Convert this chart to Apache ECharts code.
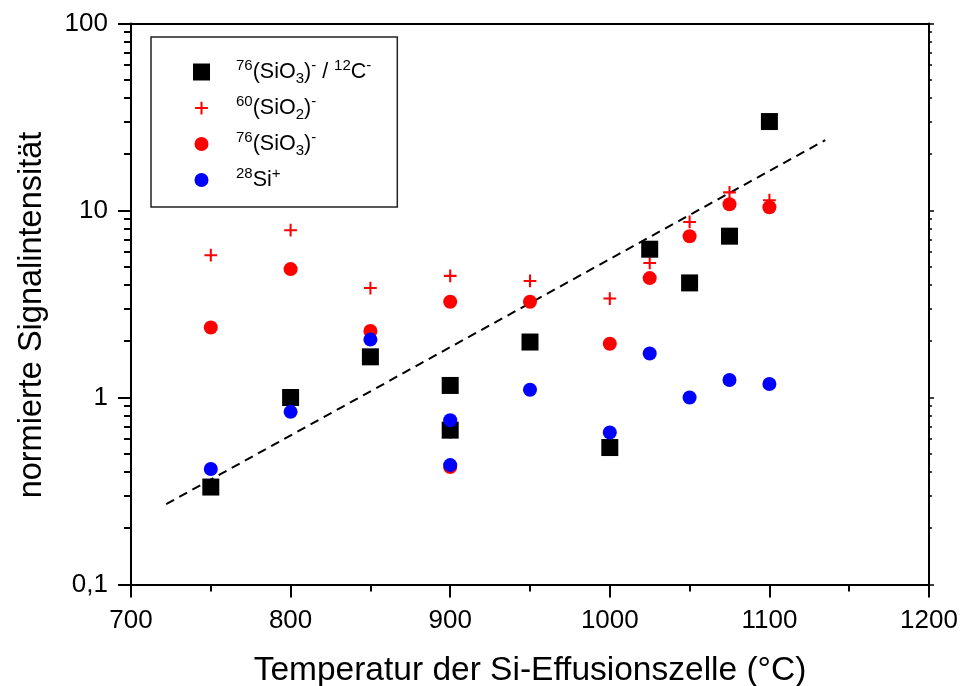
<!DOCTYPE html>
<html>
<head>
<meta charset="utf-8">
<title>normierte Signalintensität</title>
<script src="https://cdn.jsdelivr.net/npm/echarts@6/dist/echarts.min.js"></script>
<style>
    html, body { margin: 0; padding: 0; background: #fff; }
    #chart { width: 960px; height: 686px; }
</style>
</head>
<body>
<div id="chart"></div>
<script>
// Messwerte (Temperatur in °C, normierte Intensität)
const tempRatio = [750, 800, 850, 900, 900, 950, 1000, 1025, 1050, 1075, 1100]
const ratioValues = [0.332, 1.0, 1.65, 1.16, 0.669, 1.98, 0.54, 6.21, 4.10, 7.29, 29.9]

const tempSiO2 = [750, 800, 850, 900, 900, 950, 1000, 1025, 1050, 1075, 1100]
const sio2Values = [5.77, 7.85, 3.85, 4.47, 0.65, 4.20, 3.38, 5.24, 8.69, 12.5, 11.35]

const tempSiO3 = [750, 800, 850, 900, 900, 950, 1000, 1025, 1050, 1075, 1100]
const sio3Values = [2.37, 4.86, 2.27, 3.25, 0.425, 3.25, 1.94, 4.35, 7.29, 10.8, 10.4]

const tempSi = [750, 800, 850, 900, 900, 950, 1000, 1025, 1050, 1075, 1100]
const siValues = [0.415, 0.838, 2.04, 0.756, 0.435, 1.10, 0.65, 1.72, 1.0, 1.24, 1.18]

// Ausgleichsgerade (Endpunkte)
const fitTemp = [722, 1135]
const fitValues = [0.269, 23.8]

const xTicks = [700, 800, 900, 1000, 1100, 1200]
const yTicks = [0.1, 1, 10, 100]

const FONT = 'Liberation Sans, Arial, sans-serif'
// Symbole mit etwas Rand, damit Legende und Punkte gleich groß sind
const crossSymbol = 'path://M0,0M20,20M8.8,2.5H11.2V8.8H17.5V11.2H11.2V17.5H8.8V11.2H2.5V8.8H8.8Z'
const circleSymbol = 'path://M0,0M20,20M1.75,10A8.25,8.25 0 1 0 18.25,10A8.25,8.25 0 1 0 1.75,10Z'

const pairs = (xs, ys) => xs.map((x, i) => [x, ys[i]])

const legendNames = {
    ratio: '{sup0|76}{n|(SiO}{sub|3}{n|)}{sup|-}{n| / }{sup|12}{n|C}{sup|-}',
    sio2: '{sup0|60}{n|(SiO}{sub|2}{n|)}{sup|-}',
    sio3: '{sup0|76}{n|(SiO}{sub|3}{n|)}{sup|-}',
    si: '{sup0|28}{n|Si}{sup|+}',
}

const chart = echarts.init(document.getElementById('chart'))

const option = {
    animation: false,
    backgroundColor: '#fff',
    grid: { left: 131, right: 31, top: 23.5, bottom: 101.5, outerBoundsMode: 'none', containLabel: false },
    legend: {
        data: ['ratio', 'sio2', 'sio3', 'si'],
        orient: 'vertical',
        left: 151,
        top: 37,
        padding: [21, 26, 16, 42],
        itemWidth: 17,
        itemHeight: 17,
        itemGap: 8,
        selectedMode: false,
        borderColor: '#222',
        borderWidth: 1.5,
        backgroundColor: '#fff',
        formatter: name => legendNames[name],
        textStyle: {
            fontFamily: FONT,
            color: '#000',
            rich: {
                n: { fontSize: 21.5, fontFamily: FONT, color: '#000', lineHeight: 28, verticalAlign: 'middle' },
                sup: { fontSize: 15, fontFamily: FONT, color: '#000', lineHeight: 15, verticalAlign: 'top' },
                sup0: { fontSize: 15, fontFamily: FONT, color: '#000', lineHeight: 15, verticalAlign: 'top', padding: [0, 0, 0, 21] },
                sub: { fontSize: 15, fontFamily: FONT, color: '#000', lineHeight: 15, verticalAlign: 'bottom' },
            },
        },
    },
    xAxis: [
        {
            type: 'value',
            min: 700,
            max: 1200,
            interval: 100,
            name: 'Temperatur der Si-Effusionszelle (°C)',
            nameLocation: 'middle',
            nameGap: 69,
            nameTextStyle: { fontFamily: FONT, fontSize: 33.5, color: '#000' },
            axisLine: { onZero: false, lineStyle: { color: '#000', width: 2 } },
            axisTick: { show: true, inside: false, length: 13, lineStyle: { color: '#000', width: 2 } },
            minorTick: { show: true, splitNumber: 2, length: 7, lineStyle: { color: '#000', width: 2 } },
            axisLabel: {
                margin: 23,
                fontFamily: FONT,
                fontSize: 26,
                color: '#000',
                customValues: xTicks,
                formatter: v => String(v),
            },
            splitLine: { show: false },
        },
        {
            type: 'value',
            position: 'top',
            min: 700,
            max: 1200,
            interval: 100,
            axisLine: { onZero: false, lineStyle: { color: '#000', width: 2 } },
            axisTick: { show: false },
            axisLabel: { show: false },
            splitLine: { show: false },
        },
    ],
    yAxis: [
        {
            type: 'log',
            logBase: 10,
            min: 0.1,
            max: 100,
            name: 'normierte Signalintensität',
            nameLocation: 'middle',
            nameGap: 82,
            nameTextStyle: { fontFamily: FONT, fontSize: 32.5, color: '#000', padding: [0, 22, 0, 0] },
            axisLine: { onZero: false, lineStyle: { color: '#000', width: 2 } },
            axisTick: { show: true, inside: false, length: 13, lineStyle: { color: '#000', width: 2 } },
            minorTick: { show: true, splitNumber: 9, length: 7, lineStyle: { color: '#000', width: 2 } },
            axisLabel: {
                margin: 23,
                fontFamily: FONT,
                fontSize: 26,
                color: '#000',
                formatter: v => {
                    const hit = yTicks.find(t => Math.abs(t - v) / t < 1e-6)
                    return hit === undefined ? '' : String(hit).replace('.', ',')
                },
            },
            splitLine: { show: false },
        },
        {
            type: 'log',
            logBase: 10,
            position: 'right',
            min: 0.1,
            max: 100,
            axisLine: { onZero: false, lineStyle: { color: '#000', width: 2 } },
            axisTick: { show: true, inside: false, length: 5, lineStyle: { color: '#000', width: 1.5 } },
            minorTick: { show: true, splitNumber: 9, length: 3, lineStyle: { color: '#000', width: 1.5 } },
            axisLabel: { show: false },
            splitLine: { show: false },
        },
    ],
    series: [
        {
            name: 'fit',
            type: 'line',
            data: pairs(fitTemp, fitValues),
            symbol: 'none',
            lineStyle: { color: '#000', width: 2, type: [9, 6] },
            z: 1,
        },
        {
            name: 'sio2',
            type: 'scatter',
            data: pairs(tempSiO2, sio2Values),
            symbol: crossSymbol,
            symbolSize: 17,
            itemStyle: { color: '#ff0000', opacity: 1 },
            z: 2,
        },
        {
            name: 'sio3',
            type: 'scatter',
            data: pairs(tempSiO3, sio3Values),
            symbol: circleSymbol,
            symbolSize: 17,
            itemStyle: { color: '#ff0000', opacity: 1 },
            z: 3,
        },
        {
            name: 'ratio',
            type: 'scatter',
            data: pairs(tempRatio, ratioValues),
            symbol: 'rect',
            symbolSize: 17,
            itemStyle: { color: '#000', opacity: 1 },
            z: 4,
        },
        {
            name: 'si',
            type: 'scatter',
            data: pairs(tempSi, siValues),
            symbol: circleSymbol,
            symbolSize: 17,
            itemStyle: { color: '#0000ff', opacity: 1 },
            z: 5,
        },
    ],
}

chart.setOption(option)
</script>
</body>
</html>
